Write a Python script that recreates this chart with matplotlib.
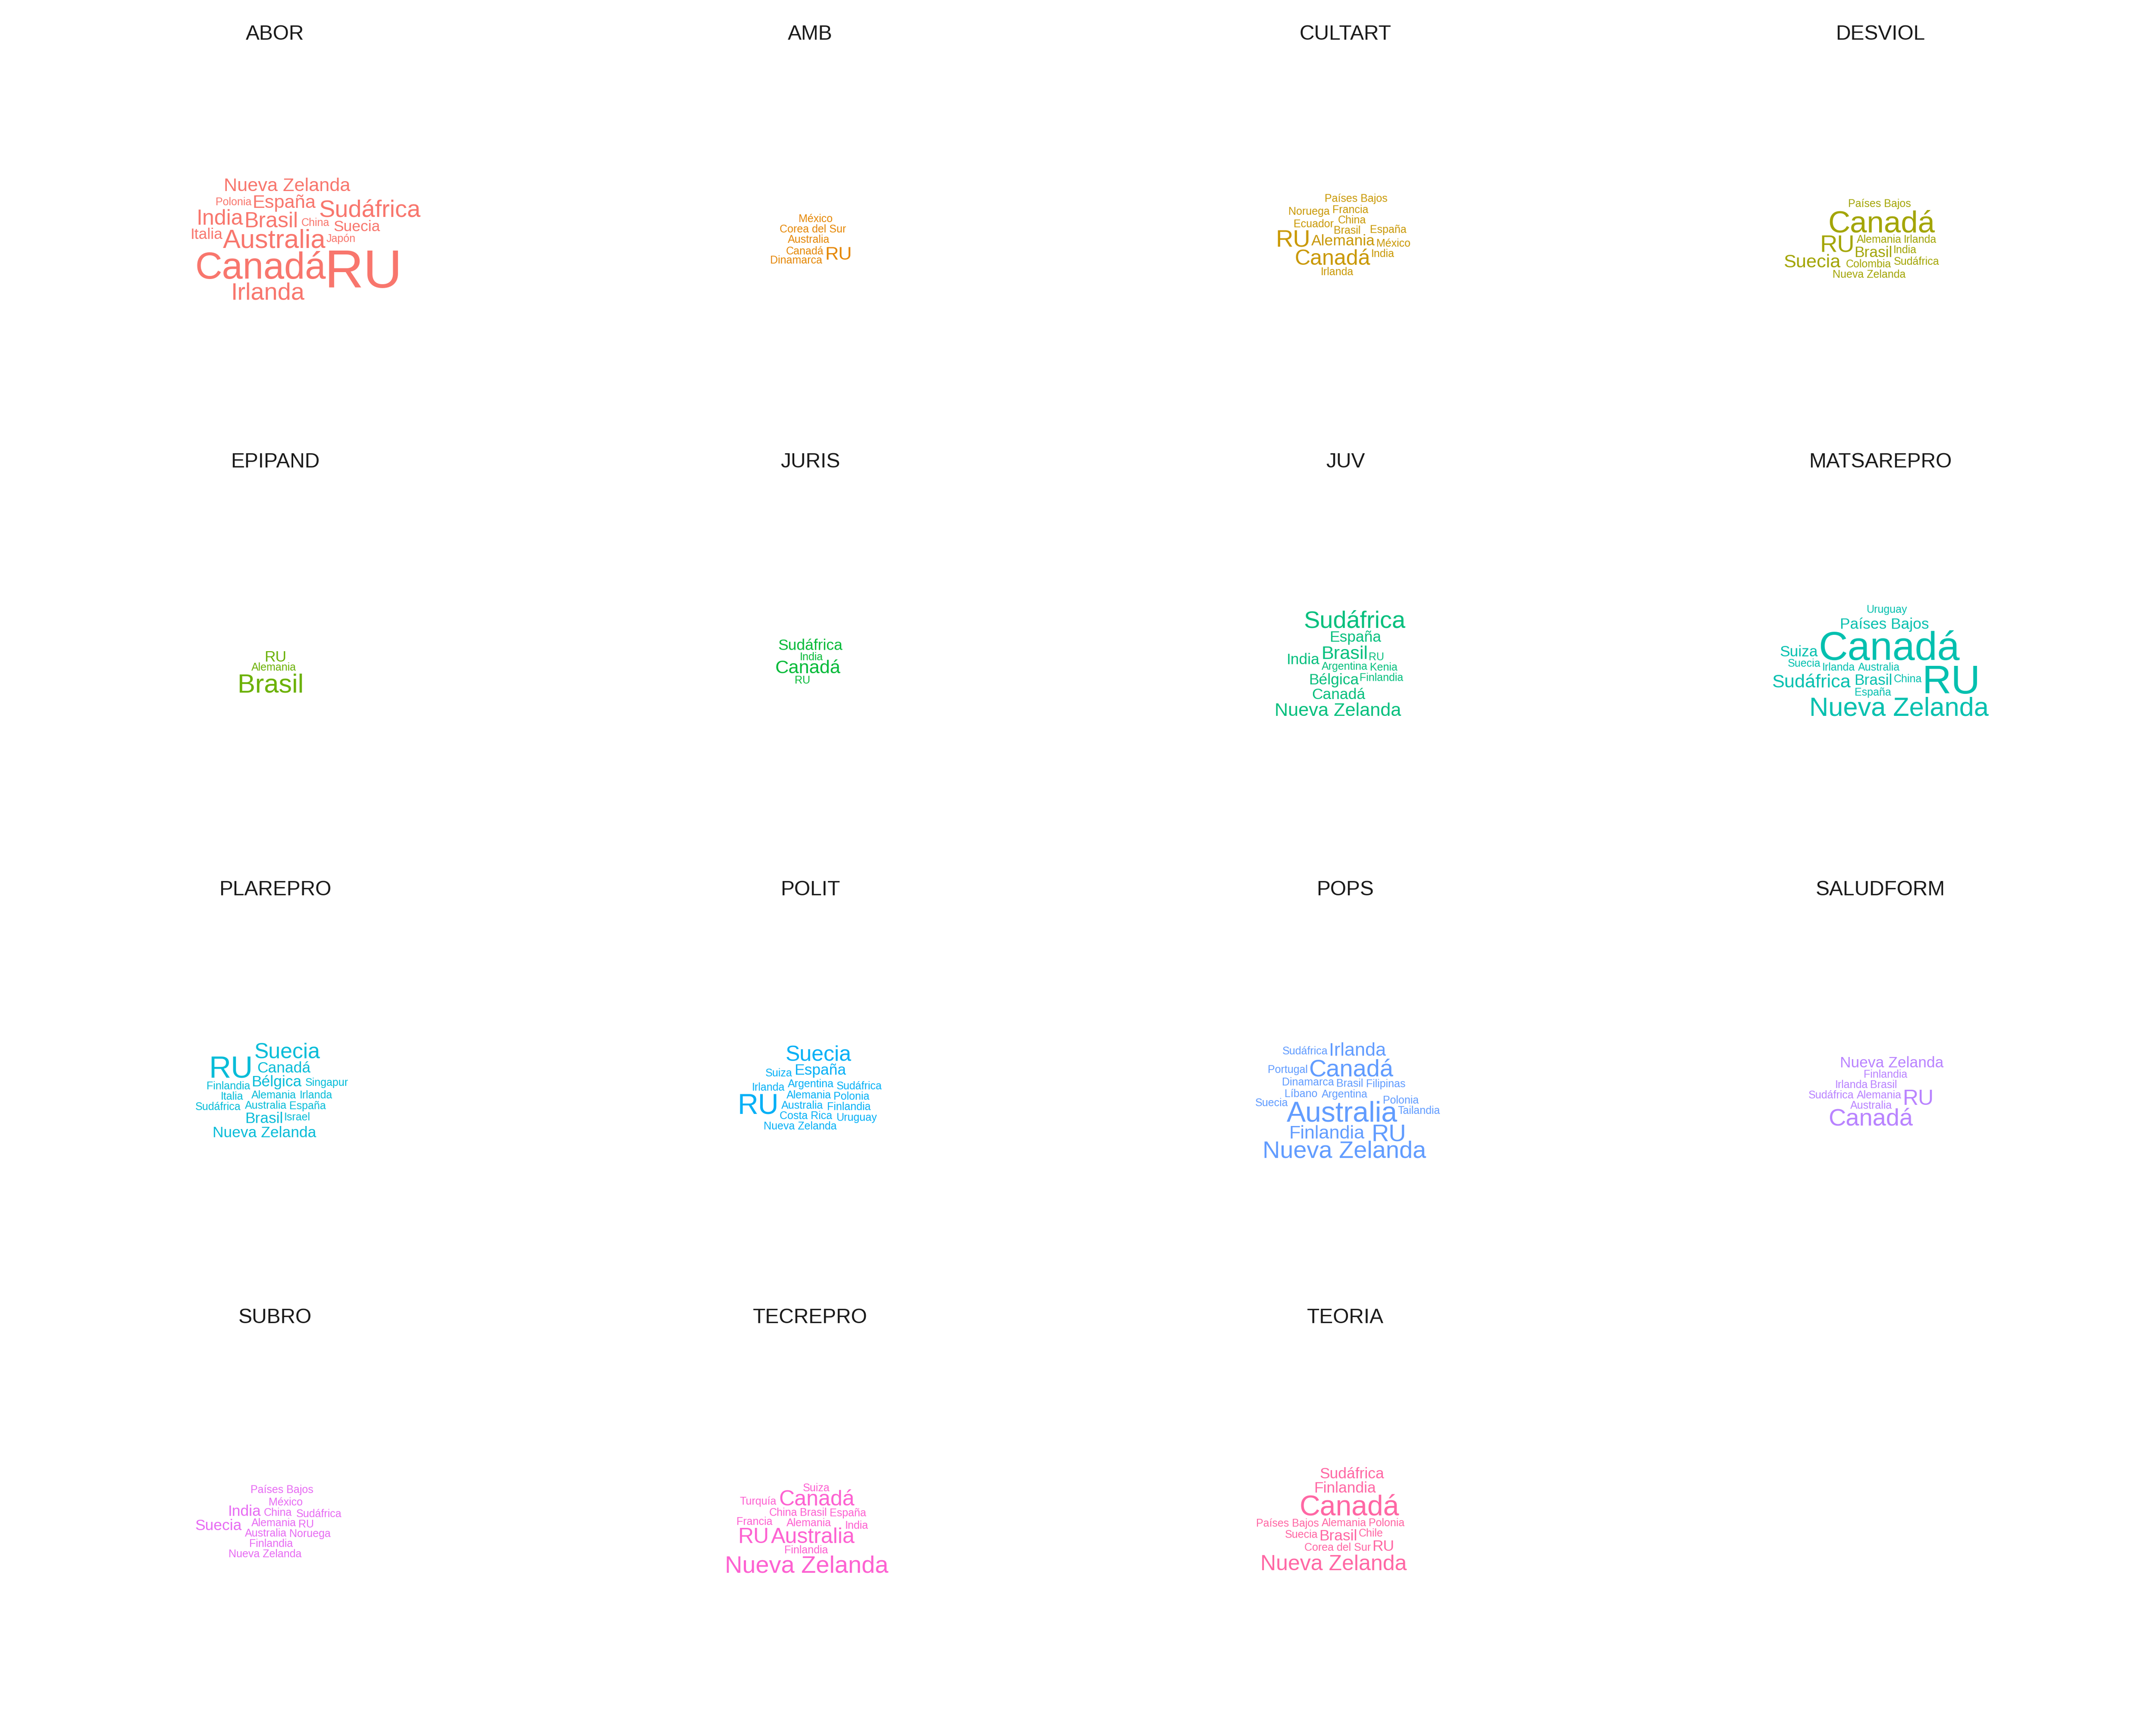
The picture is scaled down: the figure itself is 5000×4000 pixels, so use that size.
import numpy as np
import matplotlib
matplotlib.use("Agg")
import matplotlib.pyplot as plt
from matplotlib.textpath import TextPath
from matplotlib.font_manager import FontProperties

# countries named per topic, with how often each one appears (alphabetical, as in the source)
abor_words = ["Australia", "Brasil", "Canadá", "China", "España", "India", "Irlanda", "Italia",
              "Japón", "Nueva Zelanda", "Polonia", "RU", "Sudáfrica", "Suecia"]
abor_n = [6, 4, 12, 1, 3, 4, 5, 2, 1, 3, 1, 25, 5, 2]

amb_words = ["Australia", "Canadá", "Corea del Sur", "Dinamarca", "México", "RU"]
amb_n = [1, 1, 1, 1, 1, 3]

cultart_words = ["Alemania", "Brasil", "Canadá", "China", "Ecuador", "España", "Francia", "India",
                 "Irlanda", "México", "Noruega", "Países Bajos", "RU"]
cultart_n = [2, 1, 4, 1, 1, 1, 1, 1, 1, 1, 1, 1, 5]

desviol_words = ["Alemania", "Brasil", "Canadá", "Colombia", "India", "Irlanda", "Nueva Zelanda",
                 "Países Bajos", "RU", "Sudáfrica", "Suecia"]
desviol_n = [1, 2, 8, 1, 1, 1, 1, 1, 5, 1, 3]

epipand_words = ["Alemania", "Brasil", "RU"]
epipand_n = [1, 6, 2]

juris_words = ["Canadá", "India", "RU", "Sudáfrica"]
juris_n = [3, 1, 1, 2]

juv_words = ["Argentina", "Bélgica", "Brasil", "Canadá", "España", "Finlandia", "India", "Kenia",
             "Nueva Zelanda", "RU", "Sudáfrica"]
juv_n = [1, 2, 3, 2, 2, 1, 2, 1, 3, 1, 5]

matsarepro_words = ["Australia", "Brasil", "Canadá", "China", "España", "Irlanda", "Nueva Zelanda",
                    "Países Bajos", "RU", "Sudáfrica", "Suecia", "Suiza", "Uruguay"]
matsarepro_n = [1, 2, 14, 1, 1, 1, 6, 2, 14, 3, 1, 2, 1]

plarepro_words = ["Alemania", "Australia", "Bélgica", "Brasil", "Canadá", "España", "Finlandia",
                  "Irlanda", "Israel", "Italia", "Nueva Zelanda", "RU", "Singapur", "Sudáfrica", "Suecia"]
plarepro_n = [1, 1, 2, 2, 2, 1, 1, 1, 1, 1, 2, 8, 1, 1, 4]

polit_words = ["Alemania", "Argentina", "Australia", "Costa Rica", "España", "Finlandia", "Irlanda",
               "Nueva Zelanda", "Polonia", "RU", "Sudáfrica", "Suecia", "Suiza", "Uruguay"]
polit_n = [1, 1, 1, 1, 2, 1, 1, 1, 1, 7, 1, 4, 1, 1]

pops_words = ["Argentina", "Australia", "Brasil", "Canadá", "Dinamarca", "Filipinas", "Finlandia",
              "Irlanda", "Líbano", "Nueva Zelanda", "Polonia", "Portugal", "RU", "Sudáfrica",
              "Suecia", "Tailandia"]
pops_n = [1, 7, 1, 5, 1, 1, 3, 3, 1, 5, 1, 1, 5, 1, 1, 1]

saludform_words = ["Alemania", "Australia", "Brasil", "Canadá", "Finlandia", "Irlanda",
                   "Nueva Zelanda", "RU", "Sudáfrica"]
saludform_n = [1, 1, 1, 5, 1, 1, 2, 4, 1]

subro_words = ["Alemania", "Australia", "China", "Finlandia", "India", "México", "Noruega",
               "Nueva Zelanda", "Países Bajos", "RU", "Sudáfrica", "Suecia"]
subro_n = [1, 1, 1, 1, 2, 1, 1, 1, 1, 1, 1, 2]

tecrepro_words = ["Alemania", "Australia", "Brasil", "Canadá", "China", "España", "Finlandia",
                  "Francia", "India", "Nueva Zelanda", "RU", "Suiza", "Turquía"]
tecrepro_n = [1, 4, 1, 4, 1, 1, 1, 1, 1, 5, 4, 1, 1]

teoria_words = ["Alemania", "Brasil", "Canadá", "Chile", "Corea del Sur", "Finlandia",
                "Nueva Zelanda", "Países Bajos", "Polonia", "RU", "Sudáfrica", "Suecia"]
teoria_n = [1, 2, 7, 1, 1, 2, 4, 1, 1, 2, 2, 1]

topics = ["ABOR", "AMB", "CULTART", "DESVIOL", "EPIPAND", "JURIS", "JUV", "MATSAREPRO",
          "PLAREPRO", "POLIT", "POPS", "SALUDFORM", "SUBRO", "TECREPRO", "TEORIA"]
topic_words = [abor_words, amb_words, cultart_words, desviol_words, epipand_words, juris_words,
               juv_words, matsarepro_words, plarepro_words, polit_words, pops_words,
               saludform_words, subro_words, tecrepro_words, teoria_words]
topic_counts = [abor_n, amb_n, cultart_n, desviol_n, epipand_n, juris_n, juv_n, matsarepro_n,
                plarepro_n, polit_n, pops_n, saludform_n, subro_n, tecrepro_n, teoria_n]
# ggplot default hue palette for 15 groups
topic_colors = ["#F8766D", "#E58700", "#C99800", "#A3A500", "#6BB100", "#00BA38", "#00BF7D",
                "#00C0AF", "#00BCD8", "#00B0F6", "#619CFF", "#B983FF", "#E76BF3", "#FD61D1",
                "#FF67A4"]

FONT = "Liberation Sans"
DPI = 300
FIG_W, FIG_H = 5000, 4000
PANEL_W, PANEL_H = 1220, 880
CELL = 3.0      # px per collision cell
SUB = 3         # sub-samples per cell
PAD = 1         # cells of padding around each word
ECC = 0.65      # spiral eccentricity (as ggwordcloud)
PITCH = 2.0     # spiral growth, cells per turn
ARC = 1.0       # step along spiral, cells
MAX_SIZE = 30.0
N_MAX = max(max(n) for n in topic_counts)
prop = FontProperties(family=FONT)


def word_mask(word, size):
    tp = TextPath((0, 0), word, size=size * DPI / 72, prop=prop)
    ext = tp.get_extents()
    nx = int(np.ceil(ext.width / CELL)) + 1
    ny = int(np.ceil(ext.height / CELL)) + 1
    step = CELL / SUB
    xs = ext.x0 + (np.arange(nx * SUB) + 0.5) * step
    ys = ext.y0 + (np.arange(ny * SUB) + 0.5) * step
    gx, gy = np.meshgrid(xs, ys)
    inside = tp.contains_points(np.column_stack([gx.ravel(), gy.ravel()]))
    inside = inside.reshape(ny, SUB, nx, SUB).any(axis=(1, 3))
    m = np.pad(inside, PAD)
    out = m.copy()
    for dy in range(-PAD, PAD + 1):
        for dx in range(-PAD, PAD + 1):
            out |= np.roll(np.roll(m, dy, 0), dx, 1)
    return out, ext.x0 - PAD * CELL, ext.y0 - PAD * CELL


def place(occ, mask, cx, cy, theta0):
    mh, mw = mask.shape
    gh, gw = occ.shape
    r, th = 0.0, theta0
    while r < max(gw, gh):
        x = cx + r * np.cos(th)
        y = cy + r * np.sin(th) * ECC
        ix = int(round(x - mw / 2))
        iy = int(round(y - mh / 2))
        if 0 <= ix and ix + mw <= gw and 0 <= iy and iy + mh <= gh:
            if not (occ[iy:iy + mh, ix:ix + mw] & mask).any():
                occ[iy:iy + mh, ix:ix + mw] |= mask
                return ix, iy
        dth = min(0.3, ARC / max(r, 1.0))
        th += dth
        r += PITCH * dth / (2 * np.pi)
    return None


fig = plt.figure(figsize=(FIG_W / DPI, FIG_H / DPI), dpi=DPI)

for k, (title, words, counts, col) in enumerate(zip(topics, topic_words, topic_counts, topic_colors)):
    row, c = divmod(k, 4)
    cx = 638 + 1241 * c
    cy = 552 + 992 * row
    ax = fig.add_axes([(cx - PANEL_W / 2) / FIG_W, (FIG_H - cy - PANEL_H / 2) / FIG_H,
                       PANEL_W / FIG_W, PANEL_H / FIG_H])
    ax.set_xlim(0, PANEL_W)
    ax.set_ylim(0, PANEL_H)
    ax.set_axis_off()

    occ = np.zeros((int(PANEL_H // CELL), int(PANEL_W // CELL)), dtype=bool)
    gh, gw = occ.shape
    for i, (w, n) in enumerate(zip(words, counts)):
        size = MAX_SIZE * np.sqrt(n / N_MAX)
        mask, ox, oy = word_mask(w, size)
        pos = place(occ, mask, gw / 2, gh / 2, i * 2.39996)
        if pos is None:
            continue
        ix, iy = pos
        ax.text(ix * CELL - ox, iy * CELL - oy, w, fontsize=size, color=col,
                family=FONT, ha="left", va="baseline")

    fig.text(cx / FIG_W, 1 - (80 + 992 * row) / FIG_H, title, ha="center", va="center",
             fontsize=11.5, family=FONT, color="#1A1A1A")

fig.savefig("out.png", dpi=DPI)
